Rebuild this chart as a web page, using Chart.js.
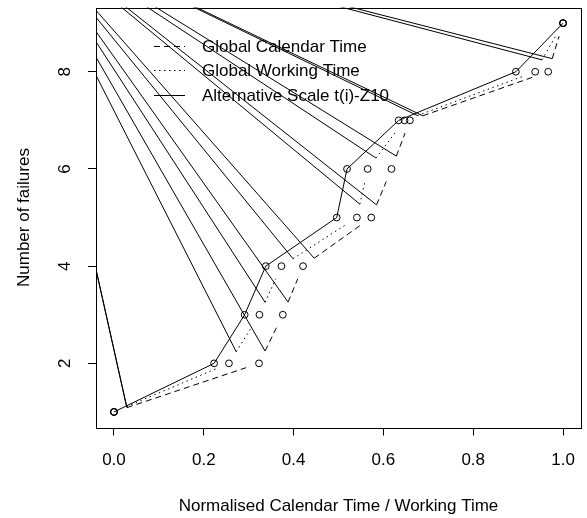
<!DOCTYPE html>
<html><head><meta charset="utf-8">
<script src="https://cdn.jsdelivr.net/npm/chart.js@4/dist/chart.umd.min.js"></script>
<style>html,body{margin:0;padding:0;background:#fff}#wrap{width:587px;height:518px}</style>
</head><body><div id="wrap"><canvas id="c" width="587" height="518"></canvas></div>
<script>
// ---- data ----
const failures = [1, 2, 3, 4, 5, 6, 7, 8, 9];
const calendarTime = [0, 0.323, 0.376, 0.421, 0.573, 0.618, 0.659, 0.967, 1.0];
const workingTime = [0, 0.256, 0.324, 0.373, 0.541, 0.565, 0.647, 0.938, 1.0];
const altScaleTime = [0, 0.223, 0.291, 0.338, 0.496, 0.519, 0.634, 0.895, 1.0];
const xTickValues = [0, 0.2, 0.4, 0.6, 0.8, 1.0];
const yTickValues = [2, 4, 6, 8];
const seriesLabels = ['Global Calendar Time', 'Global Working Time', 'Alternative Scale t(i)-Z10'];
const strayOrigin = [-0.213, 11.08]; // off-plot point that the stray segments run to

const FONT = "'Liberation Sans', Arial, Helvetica, sans-serif";
const GAP = 13.7;

const toPts = (xs) => xs.map((v, i) => ({x: v, y: failures[i]}));

const brokenLines = {
  id: 'brokenLines',
  beforeDatasetsDraw(chart) {
    const {ctx, chartArea: a, scales: {x, y}} = chart;
    const px = x.getPixelForValue(strayOrigin[0]), py = y.getPixelForValue(strayOrigin[1]);
    ctx.save();
    ctx.beginPath(); ctx.rect(a.left, a.top, a.right - a.left, a.bottom - a.top); ctx.clip();
    ctx.strokeStyle = '#000'; ctx.lineWidth = 1;
    chart.data.datasets.forEach((ds, di) => {
      if (!ds.broken) return;
      const pts = chart.getDatasetMeta(di).data;
      for (let i = 0; i < pts.length - 1; i++) {
        const p0 = pts[i], p1 = pts[i + 1];
        const dx = p1.x - p0.x, dy = p1.y - p0.y, L = Math.hypot(dx, dy);
        if (L <= 2 * GAP) continue;
        const ux = dx / L, uy = dy / L;
        const sx = p0.x + ux * GAP, sy = p0.y + uy * GAP, ex = p1.x - ux * GAP, ey = p1.y - uy * GAP;
        ctx.setLineDash(ds.dash); ctx.beginPath(); ctx.moveTo(sx, sy); ctx.lineTo(ex, ey); ctx.stroke();
        ctx.setLineDash([]); ctx.beginPath(); ctx.moveTo(sx, sy); ctx.lineTo(px, py); ctx.stroke();
      }
    });
    ctx.restore();
  }
};

const boxAndLegend = {
  id: 'boxAndLegend',
  afterDraw(chart) {
    const {ctx, chartArea: a} = chart;
    ctx.save();
    ctx.strokeStyle = '#000'; ctx.lineWidth = 1; ctx.setLineDash([]);
    ctx.strokeRect(Math.round(a.left) + 0.5, Math.round(a.top) + 0.5, Math.round(a.right - a.left), Math.round(a.bottom - a.top));
    ctx.font = `17px ${FONT}`; ctx.fillStyle = '#000';
    ctx.textBaseline = 'middle'; ctx.textAlign = 'left';
    chart.data.datasets.forEach((ds, i) => {
      const yy = Math.round(a.top + 38 + i * 24.5) + 0.5;
      ctx.setLineDash(ds.dash || []);
      ctx.beginPath(); ctx.moveTo(a.left + 58, yy); ctx.lineTo(a.left + 89, yy); ctx.stroke();
      ctx.setLineDash([]);
      ctx.fillText(ds.label, a.left + 106, yy + 1);
    });
    ctx.restore();
  }
};

const pointStyle = {
  pointStyle: 'circle', pointRadius: 3.4, pointBorderWidth: 1,
  pointBackgroundColor: 'rgba(0,0,0,0)', pointBorderColor: '#000'
};

new Chart(document.getElementById('c'), {
  type: 'scatter',
  data: {
    datasets: [
      Object.assign({label: seriesLabels[0], data: toPts(calendarTime), showLine: false, broken: true, dash: [6, 4]}, pointStyle),
      Object.assign({label: seriesLabels[1], data: toPts(workingTime), showLine: false, broken: true, dash: [1.5, 3.5]}, pointStyle),
      Object.assign({label: seriesLabels[2], data: toPts(altScaleTime), showLine: true, borderColor: '#000', borderWidth: 1, tension: 0, fill: false, dash: []}, pointStyle)
    ]
  },
  options: {
    responsive: false, animation: false, devicePixelRatio: 1,
    layout: {padding: {top: 7.6, right: 6, left: 0, bottom: 0}},
    plugins: {legend: {display: false}, tooltip: {enabled: false}},
    scales: {
      x: {
        type: 'linear', min: -0.04, max: 1.04,
        afterBuildTicks: ax => { ax.ticks = xTickValues.map(v => ({value: v})); },
        afterFit: ax => { ax.height = 90.5; ax.paddingLeft = 0; ax.paddingRight = 0; },
        grid: {drawOnChartArea: false, drawTicks: true, tickLength: 8, color: '#000', tickColor: '#000'},
        border: {display: false},
        ticks: {font: {family: FONT, size: 17}, color: '#000', padding: 15, maxRotation: 0, minRotation: 0, autoSkip: false,
                callback: v => Number(v).toFixed(1)},
        title: {display: true, text: 'Normalised Calendar Time / Working Time', font: {family: FONT, size: 17}, color: '#000',
                padding: {top: 0, bottom: 1}}
      },
      y: {
        type: 'linear', min: 0.68, max: 9.32,
        afterBuildTicks: ax => { ax.ticks = yTickValues.map(v => ({value: v})); },
        afterFit: ax => { ax.width = 96; ax.paddingTop = 0; ax.paddingBottom = 0; },
        grid: {drawOnChartArea: false, drawTicks: true, tickLength: 8, color: '#000', tickColor: '#000'},
        border: {display: false},
        ticks: {font: {family: FONT, size: 17}, color: '#000', padding: 18, minRotation: 90, maxRotation: 90, autoSkip: false,
                crossAlign: 'center', callback: v => String(v)},
        title: {display: true, text: 'Number of failures', font: {family: FONT, size: 17}, color: '#000',
                padding: {top: 14, bottom: 0}}
      }
    }
  },
  plugins: [brokenLines, boxAndLegend]
});
</script>
</body></html>
